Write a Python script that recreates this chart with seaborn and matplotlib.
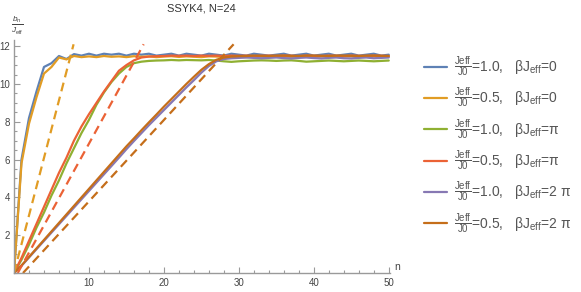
import numpy as np
import pandas as pd
import matplotlib
matplotlib.use("Agg")
import matplotlib.pyplot as plt
import seaborn as sns
from matplotlib.ticker import MultipleLocator

n = list(range(51))

blue = [0, 6.0, 8.2, 9.6, 10.9, 11.1, 11.48, 11.32, 11.58, 11.5, 11.6, 11.5, 11.6, 11.55, 11.6, 11.5,
        11.6, 11.55, 11.6, 11.5, 11.55, 11.6, 11.5, 11.6, 11.55, 11.5, 11.6, 11.55, 11.5, 11.6, 11.55,
        11.5, 11.6, 11.55, 11.5, 11.55, 11.6, 11.5, 11.55, 11.6, 11.5, 11.55, 11.6, 11.5, 11.55, 11.6,
        11.5, 11.55, 11.6, 11.5, 11.55]
orange = [0, 5.8, 7.9, 9.3, 10.55, 10.9, 11.4, 11.3, 11.48, 11.42, 11.46, 11.42, 11.48, 11.44, 11.46,
          11.42, 11.47, 11.44, 11.46, 11.42, 11.45, 11.47, 11.43, 11.46, 11.44, 11.42, 11.46, 11.45,
          11.43, 11.46, 11.44, 11.42, 11.46, 11.44, 11.43, 11.45, 11.46, 11.43, 11.45, 11.46, 11.42,
          11.45, 11.46, 11.43, 11.45, 11.46, 11.42, 11.45, 11.46, 11.43, 11.45]
green = [0, 0.7, 1.5, 2.4, 3.2, 4.1, 4.9, 5.8, 6.6, 7.4, 8.1, 8.9, 9.55, 10.1, 10.55, 10.9, 11.1,
         11.18, 11.22, 11.24, 11.25, 11.27, 11.25, 11.27, 11.26, 11.25, 11.27, 11.24, 11.2, 11.17,
         11.2, 11.22, 11.24, 11.25, 11.24, 11.22, 11.24, 11.25, 11.22, 11.18, 11.2, 11.22, 11.24,
         11.22, 11.2, 11.22, 11.24, 11.22, 11.2, 11.22, 11.24]
red = [0, 0.8, 1.7, 2.6, 3.5, 4.4, 5.3, 6.1, 7.0, 7.75, 8.4, 9.0, 9.6, 10.15, 10.7, 11.0, 11.25,
       11.4, 11.45, 11.47, 11.48, 11.5, 11.49, 11.5, 11.48, 11.5, 11.49, 11.5, 11.48, 11.5, 11.49,
       11.5, 11.48, 11.49, 11.5, 11.48, 11.5, 11.49, 11.48, 11.5, 11.49, 11.48, 11.5, 11.49, 11.48,
       11.5, 11.49, 11.48, 11.5, 11.49, 11.48]
purple = [0, 0.38, 0.82, 1.26, 1.7, 2.14, 2.58, 3.02, 3.46, 3.9, 4.34, 4.78, 5.22, 5.66, 6.1, 6.55,
          6.98, 7.4, 7.82, 8.22, 8.62, 9.02, 9.42, 9.82, 10.2, 10.6, 10.95, 11.2, 11.32, 11.36, 11.38,
          11.4, 11.38, 11.36, 11.38, 11.4, 11.37, 11.35, 11.38, 11.4, 11.37, 11.35, 11.38, 11.4,
          11.36, 11.35, 11.38, 11.4, 11.36, 11.38, 11.4]
brown = [0, 0.4, 0.85, 1.3, 1.75, 2.2, 2.65, 3.1, 3.55, 4.0, 4.45, 4.9, 5.35, 5.8, 6.25, 6.7, 7.12,
         7.55, 7.97, 8.38, 8.8, 9.2, 9.6, 10.0, 10.38, 10.75, 11.05, 11.28, 11.4, 11.45, 11.47, 11.48,
         11.5, 11.49, 11.48, 11.5, 11.5, 11.49, 11.48, 11.5, 11.5, 11.49, 11.48, 11.5, 11.5, 11.49,
         11.48, 11.5, 11.5, 11.49, 11.48]

labels = [
    r'$\frac{\rm Jeff}{\rm J0}$=1.0,   βJ$_{\rm eff}$=0',
    r'$\frac{\rm Jeff}{\rm J0}$=0.5,   βJ$_{\rm eff}$=0',
    r'$\frac{\rm Jeff}{\rm J0}$=1.0,   βJ$_{\rm eff}$=π',
    r'$\frac{\rm Jeff}{\rm J0}$=0.5,   βJ$_{\rm eff}$=π',
    r'$\frac{\rm Jeff}{\rm J0}$=1.0,   βJ$_{\rm eff}$=2 π',
    r'$\frac{\rm Jeff}{\rm J0}$=0.5,   βJ$_{\rm eff}$=2 π',
]
colors = ['#5E81B5', '#E19C24', '#8FB032', '#EB6235', '#8778B3', '#C56E1A']

# dashed reference lines (two end points each)
dash_orange_x = [0.0, 7.95]
dash_orange_y = [0.0, 12.1]
dash_red_x = [0.5, 17.3]
dash_red_y = [0.0, 12.1]
dash_brown_x = [1.2, 29.3]
dash_brown_y = [0.0, 12.1]

sns.set_theme(style="white")
plt.rcParams['font.family'] = ['Liberation Sans', 'DejaVu Sans']
plt.rcParams['mathtext.fontset'] = 'custom'
plt.rcParams['mathtext.rm'] = 'Liberation Sans'
plt.rcParams['mathtext.it'] = 'Liberation Sans:italic'
plt.rcParams['mathtext.bf'] = 'Liberation Sans:bold'

series = [blue, orange, green, red, purple, brown]
df = pd.concat([pd.DataFrame({'n': n, 'b': s, 'series': lab}) for s, lab in zip(series, labels)],
               ignore_index=True)

fig = plt.figure(figsize=(5.81, 2.92), dpi=100)
ax = fig.add_axes([14 / 581, 19 / 292, (389.5 - 14) / 581, (273 - 40.5) / 292])

sns.lineplot(data=df, x='n', y='b', hue='series', hue_order=labels, palette=colors,
             linewidth=1.6, ax=ax, legend=True)

dash_kw = dict(linewidth=1.6, dashes=(4, 2.5))
ax.plot(dash_orange_x, dash_orange_y, color=colors[1], **dash_kw)
ax.plot(dash_red_x, dash_red_y, color=colors[3], **dash_kw)
ax.plot(dash_brown_x, dash_brown_y, color=colors[5], **dash_kw)

ax.set_xlim(0, 50.1)
ax.set_ylim(0, 12.3)
ax.set_xlabel('')
ax.set_ylabel('')

for s in ['top', 'right']:
    ax.spines[s].set_visible(False)
for s in ['left', 'bottom']:
    ax.spines[s].set_color('#9a9a9a')
    ax.spines[s].set_linewidth(1.0)

ax.xaxis.set_major_locator(MultipleLocator(10))
ax.xaxis.set_minor_locator(MultipleLocator(2))
ax.yaxis.set_major_locator(MultipleLocator(2))
ax.yaxis.set_minor_locator(MultipleLocator(0.5))
ax.tick_params(which='both', direction='in', color='#9a9a9a', labelcolor='#444444', labelsize=7,
               bottom=True, left=True, width=0.8)
ax.tick_params(which='major', length=4)
ax.tick_params(which='minor', length=2)
ax.set_xticks([10, 20, 30, 40, 50])
ax.set_yticks([2, 4, 6, 8, 10, 12])
ax.tick_params(axis='y', pad=3)

ax.set_title('SSYK4, N=24', fontsize=8, color='#333333', pad=21)
fig.text(17 / 581, 1 - 25 / 292, r'$\frac{b_n}{J_{\rm eff}}$', fontsize=8.5, color='#444444',
         ha='center', va='center')
fig.text(397 / 581, 1 - 267 / 292, 'n', fontsize=7.5, color='#444444', ha='center', va='center')

leg = ax.legend(loc='center left', bbox_to_anchor=(418 / 581, 0.505), bbox_transform=fig.transFigure,
                frameon=False, fontsize=10, handlelength=1.7, handletextpad=0.5, labelspacing=0.55,
                borderaxespad=0)
for t in leg.get_texts():
    t.set_color('#555555')
for h in leg.get_lines():
    h.set_linewidth(1.6)

fig.savefig('out.png', dpi=100)
